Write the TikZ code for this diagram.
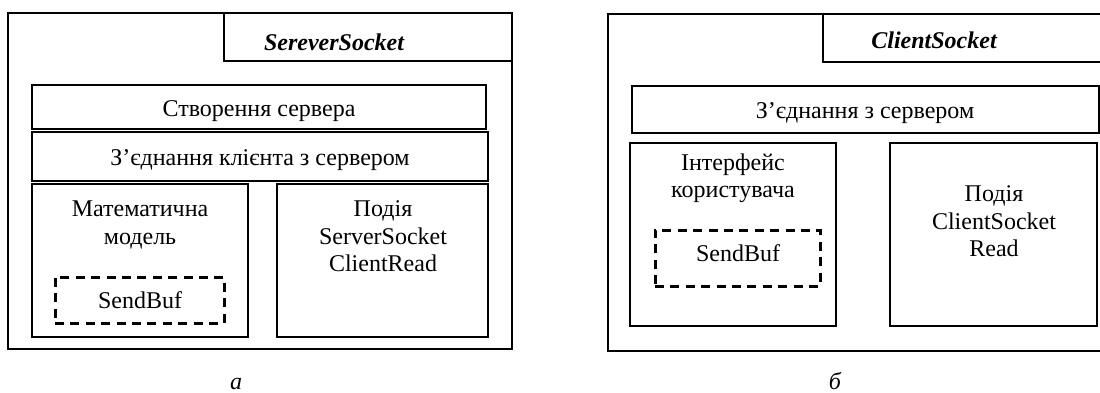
\documentclass[tikz,border=0pt]{standalone}
\usepackage{fontspec}
\setmainfont{Liberation Serif}
\usetikzlibrary{fit}

\begin{document}
\begin{tikzpicture}[x=.5pt,y=-.5pt,
  every node/.style={font=\fontsize{12}{13.7}\selectfont},
  blk/.style={draw,line width=1pt,inner sep=0pt},
  buf/.style={draw,line width=1.5pt,dash pattern=on 4.5pt off 3.2pt,inner sep=0pt},
  txt/.style={anchor=base,inner sep=0pt,align=center},
  ttl/.style={txt,font=\fontsize{12}{13.7}\selectfont\bfseries\itshape}]
  \useasboundingbox (0,0) rectangle (1100,392);
  \clip (0,0) rectangle (1100,392);

  % server side (multi-line texts sit on the baseline of their last line)
  \node[blk,fit={(7.5,13)(512,349)}] (srvframe) {};
  \node[blk,fit={(224,13)(512,61)}] (srvtitle) {};
  \node[blk,fit={(31.6,85)(486,129)}] (srvcreate) {};
  \node[blk,fit={(31.6,132)(488,181)}] (srvconn) {};
  \node[blk,fit={(31.6,184)(248,337)}] (srvmodel) {};
  \node[blk,fit={(277,184)(488,337)}] (srvevent) {};
  \node[buf,fit={(55,277)(224,323)}] (srvbuf) {};
  \node[ttl] (srvname) at (334,50) {SereverSocket};
  \node[txt] (srvcreatetxt) at (259,116) {Створення сервера};
  \node[txt] (srvconntxt) at (260,165) {З’єднання клієнта з сервером};
  \node[txt] (srvmodeltxt) at (140,244.1) {Математична\\модель};
  \node[txt] (srvbuftxt) at (140,308) {SendBuf};
  \node[txt] (srveventtxt) at (383,271.5) {Подія\\ServerSocket\\ClientRead};
  \node[txt,font=\fontsize{12}{13.7}\selectfont\itshape] (srvcap) at (236,389) {а};

  % client side
  \node[blk,fit={(608,14)(1120,351)}] (cltframe) {};
  \node[blk,fit={(823,14)(1120,62)}] (clttitle) {};
  \node[blk,fit={(632,86)(1099,133)}] (cltconn) {};
  \node[blk,fit={(630,143)(836,326)}] (cltui) {};
  \node[blk,fit={(890,143)(1097,326)}] (cltevent) {};
  \node[buf,fit={(655,230)(820,286)}] (cltbuf) {};
  \node[ttl] (cltname) at (934,48) {ClientSocket};
  \node[txt] (cltconntxt) at (865,118) {З’єднання з сервером};
  \node[txt] (cltuitxt) at (733,197.5) {Інтерфейс\\користувача};
  \node[txt] (cltbuftxt) at (738,261.7) {SendBuf};
  \node[txt] (clteventtxt) at (994,256.7) {Подія\\ClientSocket\\Read};
  \node[txt,font=\fontsize{12}{13.7}\selectfont\itshape] (cltcap) at (835,389) {б};
\end{tikzpicture}
\end{document}
